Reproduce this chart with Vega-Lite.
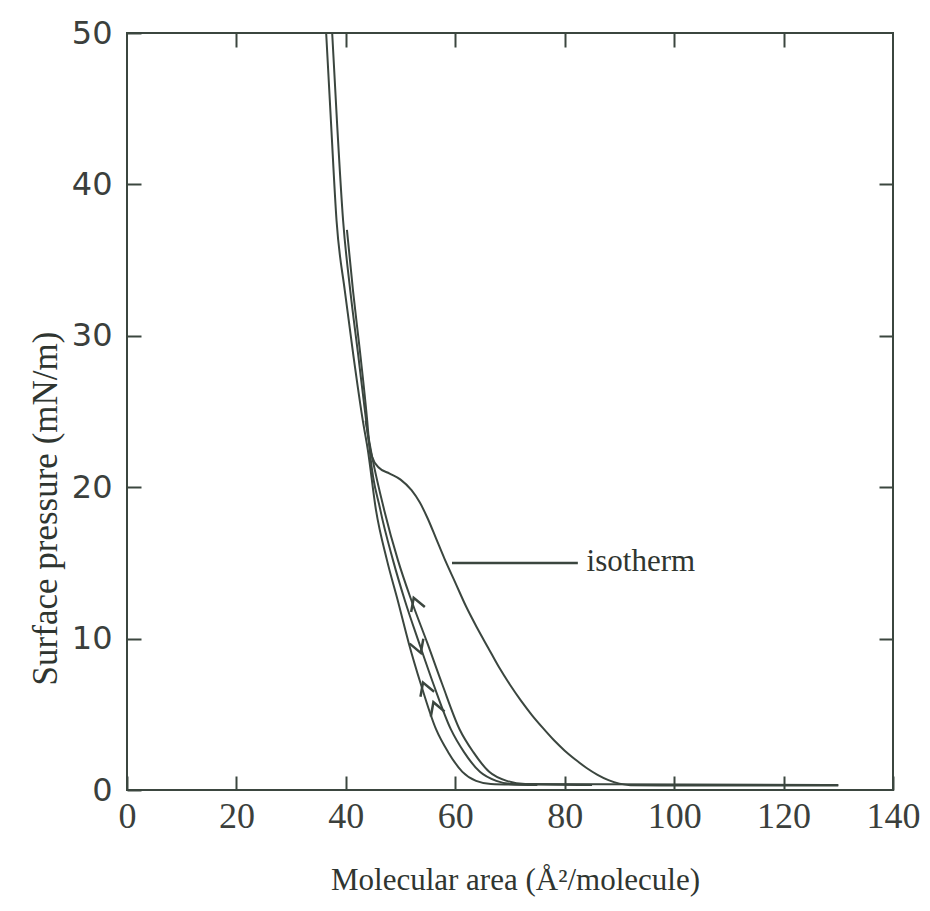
{
  "$schema": "https://vega.github.io/schema/vega-lite/v6.json",
  "width": 766,
  "height": 757,
  "autosize": "none",
  "padding": {"left": 127, "top": 33, "right": 37, "bottom": 121},
  "background": "#ffffff",
  "config": {
    "view": {"stroke": "#3b463f", "strokeWidth": 2},
    "axis": {"grid": false, "domain": false, "tickColor": "#3b463f", "tickWidth": 2, "tickSize": -14}
  },
  "datasets": {
    "curves": [
      {"s": "iso", "i": 0, "x": 37.5, "y": 50},
      {"s": "iso", "i": 1, "x": 38.4, "y": 44},
      {"s": "iso", "i": 2, "x": 39.5, "y": 37.6},
      {"s": "iso", "i": 3, "x": 40.8, "y": 33},
      {"s": "iso", "i": 4, "x": 42.2, "y": 28.9},
      {"s": "iso", "i": 5, "x": 43.5, "y": 25},
      {"s": "iso", "i": 6, "x": 44.2, "y": 23},
      {"s": "iso", "i": 7, "x": 44.8, "y": 22},
      {"s": "iso", "i": 8, "x": 46, "y": 21.3},
      {"s": "iso", "i": 9, "x": 48, "y": 20.9},
      {"s": "iso", "i": 10, "x": 50, "y": 20.5},
      {"s": "iso", "i": 11, "x": 52, "y": 19.8},
      {"s": "iso", "i": 12, "x": 53.5, "y": 19},
      {"s": "iso", "i": 13, "x": 55, "y": 17.9},
      {"s": "iso", "i": 14, "x": 56.5, "y": 16.6},
      {"s": "iso", "i": 15, "x": 58, "y": 15.3},
      {"s": "iso", "i": 16, "x": 60, "y": 13.7},
      {"s": "iso", "i": 17, "x": 62, "y": 12.1},
      {"s": "iso", "i": 18, "x": 64, "y": 10.7},
      {"s": "iso", "i": 19, "x": 66, "y": 9.4},
      {"s": "iso", "i": 20, "x": 68, "y": 8.1},
      {"s": "iso", "i": 21, "x": 70, "y": 6.95},
      {"s": "iso", "i": 22, "x": 72, "y": 5.9},
      {"s": "iso", "i": 23, "x": 74, "y": 4.95},
      {"s": "iso", "i": 24, "x": 76, "y": 4.1},
      {"s": "iso", "i": 25, "x": 78, "y": 3.3},
      {"s": "iso", "i": 26, "x": 80, "y": 2.6},
      {"s": "iso", "i": 27, "x": 82, "y": 2.0},
      {"s": "iso", "i": 28, "x": 84, "y": 1.45},
      {"s": "iso", "i": 29, "x": 86, "y": 1.0},
      {"s": "iso", "i": 30, "x": 88, "y": 0.65},
      {"s": "iso", "i": 31, "x": 90, "y": 0.42},
      {"s": "iso", "i": 32, "x": 92, "y": 0.32},
      {"s": "iso", "i": 33, "x": 100, "y": 0.3},
      {"s": "iso", "i": 34, "x": 130, "y": 0.3},
      {"s": "c1", "i": 0, "x": 36.4, "y": 50},
      {"s": "c1", "i": 1, "x": 37.3, "y": 44},
      {"s": "c1", "i": 2, "x": 38.3, "y": 37.6},
      {"s": "c1", "i": 3, "x": 39.8, "y": 33},
      {"s": "c1", "i": 4, "x": 41.3, "y": 28.9},
      {"s": "c1", "i": 5, "x": 43.1, "y": 24.4},
      {"s": "c1", "i": 6, "x": 44, "y": 22.5},
      {"s": "c1", "i": 7, "x": 45.5, "y": 18.5},
      {"s": "c1", "i": 8, "x": 47.5, "y": 15.2},
      {"s": "c1", "i": 9, "x": 49.5, "y": 12.5},
      {"s": "c1", "i": 10, "x": 51.5, "y": 9.7},
      {"s": "c1", "i": 11, "x": 53.7, "y": 7},
      {"s": "c1", "i": 12, "x": 56.5, "y": 4.0},
      {"s": "c1", "i": 13, "x": 58.7, "y": 2.5},
      {"s": "c1", "i": 14, "x": 61.3, "y": 1.2},
      {"s": "c1", "i": 15, "x": 63.8, "y": 0.6},
      {"s": "c1", "i": 16, "x": 66.5, "y": 0.4},
      {"s": "c1", "i": 17, "x": 75, "y": 0.33},
      {"s": "c2", "i": 0, "x": 40.2, "y": 37},
      {"s": "c2", "i": 1, "x": 41.3, "y": 33},
      {"s": "c2", "i": 2, "x": 42.6, "y": 28.9},
      {"s": "c2", "i": 3, "x": 43.9, "y": 24.4},
      {"s": "c2", "i": 4, "x": 44.4, "y": 22.3},
      {"s": "c2", "i": 5, "x": 46.3, "y": 18.5},
      {"s": "c2", "i": 6, "x": 48.6, "y": 15.2},
      {"s": "c2", "i": 7, "x": 50.8, "y": 12.5},
      {"s": "c2", "i": 8, "x": 53.4, "y": 9.7},
      {"s": "c2", "i": 9, "x": 56, "y": 7},
      {"s": "c2", "i": 10, "x": 59.2, "y": 4.0},
      {"s": "c2", "i": 11, "x": 61.6, "y": 2.5},
      {"s": "c2", "i": 12, "x": 64.5, "y": 1.2},
      {"s": "c2", "i": 13, "x": 67.5, "y": 0.6},
      {"s": "c2", "i": 14, "x": 70.3, "y": 0.4},
      {"s": "c2", "i": 15, "x": 85, "y": 0.33},
      {"s": "c3", "i": 0, "x": 43.6, "y": 24.4},
      {"s": "c3", "i": 1, "x": 44.8, "y": 22},
      {"s": "c3", "i": 2, "x": 47, "y": 18.5},
      {"s": "c3", "i": 3, "x": 49.5, "y": 15.2},
      {"s": "c3", "i": 4, "x": 52, "y": 12.5},
      {"s": "c3", "i": 5, "x": 54.9, "y": 9.7},
      {"s": "c3", "i": 6, "x": 57.6, "y": 7},
      {"s": "c3", "i": 7, "x": 60.8, "y": 4.0},
      {"s": "c3", "i": 8, "x": 63.3, "y": 2.5},
      {"s": "c3", "i": 9, "x": 66.2, "y": 1.2},
      {"s": "c3", "i": 10, "x": 69.4, "y": 0.6},
      {"s": "c3", "i": 11, "x": 72.8, "y": 0.4},
      {"s": "c3", "i": 12, "x": 130, "y": 0.33}
    ],
    "arrows": [
      {"x": 52.4, "y": 12.7, "dir": "up"},
      {"x": 53.7, "y": 9.05, "dir": "down"},
      {"x": 54.1, "y": 7.1, "dir": "up"},
      {"x": 56.0, "y": 5.8, "dir": "up"}
    ],
    "label": [
      {"x": 59.4, "x2": 82.4, "y": 15, "text": "isotherm", "tx": 84}
    ]
  },
  "layer": [
    {
      "data": {"name": "curves"},
      "mark": {"type": "line", "stroke": "#3b463f", "strokeWidth": 2, "interpolate": "monotone"},
      "encoding": {
        "x": {"field": "x", "type": "quantitative",
              "scale": {"domain": [0, 140], "nice": false, "zero": false},
              "axis": {"orient": "bottom", "values": [0, 20, 40, 60, 80, 100, 120, 140],
                       "labelFont": "Liberation Sans Narrow", "labelFontSize": 36, "labelColor": "#3b3f3c",
                       "labelPadding": 23, "labelFlush": false,
                       "title": "Molecular area (Å²/molecule)", "titleFont": "Liberation Serif",
                       "titleFontSize": 31, "titleFontWeight": "normal", "titleColor": "#2f3530",
                       "titleX": 388, "titleY": 99, "titleAlign": "center", "titleBaseline": "alphabetic"}},
        "y": {"field": "y", "type": "quantitative",
              "scale": {"domain": [0, 50], "nice": false, "zero": false},
              "axis": {"orient": "left", "values": [0, 10, 20, 30, 40, 50],
                       "labelFont": "DejaVu Sans", "labelFontSize": 32, "labelColor": "#3b3f3c",
                       "labelPadding": 29, "labelFlush": false,
                       "title": "Surface pressure (mN/m)", "titleFont": "Liberation Serif",
                       "titleFontSize": 35, "titleFontWeight": "normal", "titleColor": "#2f3530",
                       "titleX": -82, "titleY": 475, "titleAngle": -90, "titleAlign": "center", "titleBaseline": "middle"}},
        "detail": {"field": "s", "type": "nominal"},
        "order": {"field": "i", "type": "quantitative"}
      }
    },
    {
      "data": {"name": "arrows"},
      "mark": {"type": "point", "filled": false, "stroke": "#3b463f", "strokeWidth": 2.5, "size": 700, "angle": -20, "opacity": 1},
      "encoding": {
        "x": {"field": "x", "type": "quantitative",
              "axis": {"orient": "top", "values": [20, 40, 60, 80, 100, 120], "labels": false, "title": null}},
        "y": {"field": "y", "type": "quantitative",
              "axis": {"orient": "right", "values": [10, 20, 30, 40], "labels": false, "title": null}},
        "shape": {"field": "dir", "type": "nominal",
                  "scale": {"domain": ["up", "down"], "range": ["M-0.55,0.95L0,0L0.55,0.95", "M-0.55,-0.95L0,0L0.55,-0.95"]},
                  "legend": null}
      }
    },
    {
      "data": {"name": "label"},
      "mark": {"type": "rule", "stroke": "#3b463f", "strokeWidth": 2.5},
      "encoding": {
        "x": {"field": "x", "type": "quantitative", "axis": null},
        "x2": {"field": "x2"},
        "y": {"field": "y", "type": "quantitative", "axis": null}
      }
    },
    {
      "data": {"name": "label"},
      "mark": {"type": "text", "align": "left", "baseline": "middle", "font": "Liberation Serif", "fontSize": 31, "color": "#2f3530", "dy": -1},
      "encoding": {
        "x": {"field": "tx", "type": "quantitative", "axis": null},
        "y": {"field": "y", "type": "quantitative", "axis": null},
        "text": {"field": "text"}
      }
    }
  ],
  "resolve": {"axis": {"x": "independent", "y": "independent"}}
}
